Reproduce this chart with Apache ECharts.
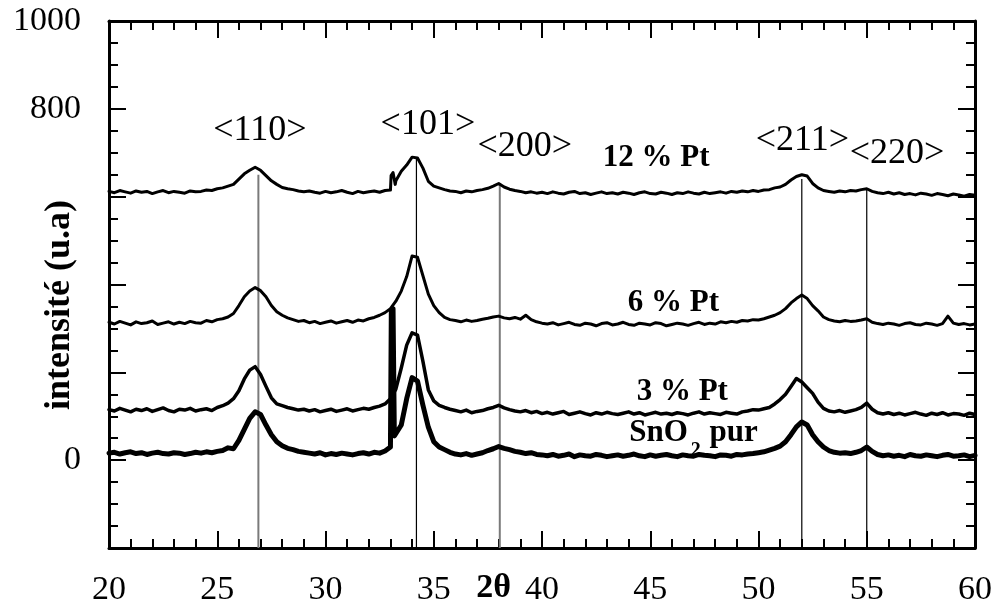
<!DOCTYPE html>
<html><head><meta charset="utf-8">
<script src="https://cdn.jsdelivr.net/npm/echarts@6/dist/echarts.min.js"></script>
<style>html,body{margin:0;padding:0;background:#fff}#c{width:996px;height:606px}</style>
</head><body><div id="c"></div>
<script>
// ---- data ----
const twoThetaStart = 20, twoThetaStep = 0.25;
const sno2Pur = [16,18,14,17,19,15,17,13,16,18,15,14,17,16,13,15,18,16,19,17,20,
  22,28,26,45,70,95,110,104,80,58,42,33,27,24,20,18,
  16,14,17,12,15,13,16,14,12,15,17,14,18,16,21,
  30,58,80,140,188,180,125,75,42,30,24,18,14,12,15,11,14,17,22,26,31,27,24,20,18,15,17,13,12,
  10,13,9,11,14,8,12,10,9,13,11,8,10,12,9,11,14,10,8,12,9,11,13,10,8,12,10,9,13,11,10,8,12,11,9,13,12,14,15,
  17,19,23,27,32,42,58,76,87,80,58,42,30,22,18,16,17,15,18,22,30,20,13,10,12,
  9,11,8,13,10,9,12,10,8,11,13,9,10,12,8,11];
const sno2Spike = [[33.04,340],[33.12,345],[33.18,55]];
const pt3 = [115,112,118,114,110,116,113,117,111,115,119,113,110,116,114,118,112,115,117,113,120,
  124,130,140,158,185,205,213,195,168,142,128,124,120,117,114,116,
  112,115,110,113,116,111,114,117,112,115,118,116,120,123,128,
  140,162,210,262,290,285,225,160,135,125,120,116,113,110,114,108,111,113,117,120,125,119,115,112,110,113,108,111,106,
  109,105,108,111,104,107,110,106,103,108,105,109,106,104,107,110,105,108,103,106,109,105,107,104,108,106,103,107,110,105,108,106,104,109,107,105,110,112,115,
  114,117,120,128,138,150,168,186,178,165,152,132,118,112,110,113,109,112,115,120,130,116,108,105,108,
  104,107,103,106,109,105,102,107,104,108,103,106,105,102,107,104];
const pt6 = [314,310,316,312,308,315,311,313,317,309,312,315,310,314,311,316,313,312,318,315,320,
  322,326,334,352,372,385,393,386,372,352,338,330,324,320,316,318,
  313,316,311,314,317,312,315,318,314,319,317,322,325,330,336,
  345,362,385,418,465,462,420,378,352,336,325,320,318,315,319,316,318,321,323,326,328,324,322,325,321,330,320,315,312,
  310,313,308,311,314,309,307,312,310,306,311,313,308,310,314,309,307,312,310,308,313,311,306,309,312,310,307,311,314,309,312,310,315,313,316,314,318,317,320,
  319,322,326,330,336,345,358,368,376,368,352,340,326,320,317,315,318,316,317,319,322,314,311,309,312,
  310,307,311,313,309,308,312,310,307,311,328,312,309,311,308,310];
const pt12 = [612,609,614,611,608,613,610,612,607,611,614,609,612,610,608,613,611,612,615,614,
  618,620,624,628,640,652,660,667,660,648,636,628,621,618,616,613,611,
  613,610,608,612,609,611,614,610,607,612,609,611,613,610,614,
  615,636,658,672,690,688,665,635,624,620,616,613,612,609,613,611,614,616,619,624,630,622,617,614,612,609,611,608,610,
  607,611,608,606,610,612,607,609,605,608,611,607,609,606,610,608,605,609,611,607,606,610,608,605,609,607,611,608,606,610,607,609,611,608,612,610,613,611,614,
  612,615,616,620,622,628,638,646,650,647,630,620,614,612,610,613,611,614,613,616,618,612,609,607,610,
  606,609,605,607,604,608,606,603,607,605,602,606,604,601,605,603];
const pt12Spike = [[33.03,648],[33.12,655],[33.22,628]];

const peakNames = ['<110>','<101>','<200>','<211>','<220>'];
const peakPos = [26.9, 34.2, 38.05, 52.0, 55.0];
const peakLineTop = [650, 690, 631, 640, 615];
const peakLabelX = [26.97, 34.73, 39.2, 52.03, 56.4];
const peakLabelY = [751, 764, 713, 727, 699];

const sampleNames = ['12 % Pt', '6 % Pt', '3 % Pt', '{a|SnO}{s|2}{a| pur}'];
const sampleLabelX = [45.27, 46.07, 46.48, 47.0];
const sampleLabelY = [688, 357, 155, 61];

const yTickLabels = [0, 800, 1000];
const xTitle = '2θ', xTitleAt = 37.76;

// ---- chart ----
const FONT = '"Liberation Serif", "Times New Roman", serif';
const twoTheta = sno2Pur.map((_, i) => twoThetaStart + i * twoThetaStep);

function curve(name, ys, extra, width) {
  const pts = ys.map((y, i) => [twoTheta[i], y]).concat(extra || []).sort((a, b) => a[0] - b[0]);
  return { type: 'line', name, data: pts, symbol: 'none', showSymbol: false, silent: true,
    lineStyle: { color: '#000', width, join: 'round', cap: 'round' }, z: 3 };
}

const tickCommon = {
  axisLine: { show: true, onZero: false, lineStyle: { color: '#000', width: 3 } },
  axisTick: { show: true, inside: true, length: 17, lineStyle: { color: '#000', width: 2 } },
  minorTick: { show: true, length: 9, lineStyle: { color: '#000', width: 2 } },
  splitLine: { show: false }, minorSplitLine: { show: false }
};
function xAx(pos, labels) {
  return Object.assign({ type: 'value', min: 20, max: 60, interval: 5, position: pos, nameMoveOverlap: false }, JSON.parse(JSON.stringify(tickCommon)), {
    minorTick: Object.assign({}, tickCommon.minorTick, { splitNumber: 5 }),
    axisLabel: labels ? { show: true, fontFamily: FONT, fontSize: 34, color: '#000', margin: 25 } : { show: false }
  });
}
function yAx(pos, labels) {
  return Object.assign({ type: 'value', min: -200, max: 1000, interval: 200, position: pos, nameMoveOverlap: false }, JSON.parse(JSON.stringify(tickCommon)), {
    minorTick: Object.assign({}, tickCommon.minorTick, { splitNumber: 4 }),
    axisLabel: labels ? { show: true, fontFamily: FONT, fontSize: 34, color: '#000', margin: 28,
      formatter: v => yTickLabels.includes(v) ? String(v) : '' } : { show: false }
  });
}

const yMain = yAx('left', true);
Object.assign(yMain, { name: 'intensité (u.a)', nameLocation: 'middle', nameGap: 31,
  nameTextStyle: { fontFamily: FONT, fontWeight: 'bold', fontSize: 36, color: '#000', padding: [0, 41, 0, 0] } });

const labelPlain = { textBorderWidth: 0, textBorderColor: 'transparent', textShadowBlur: 0, opacity: 1 };

const series = [];
peakPos.forEach((x, k) => {
  series.push({ type: 'line', data: [[x, -200], [x, peakLineTop[k]]], symbol: 'none', silent: true, z: 1,
    lineStyle: { color: (k === 0 || k === 2) ? '#7a7a7a' : '#000', width: (k === 0 || k === 2) ? 2 : 1.2 } });
});
series.push(curve('SnO2 pur', sno2Pur, sno2Spike, 5));
series.push(curve('3 % Pt', pt3, null, 3.5));
series.push(curve('6 % Pt', pt6, null, 3));
series.push(curve('12 % Pt', pt12, pt12Spike, 3));
series.push({ type: 'scatter', symbolSize: 0, silent: true, z: 5, itemStyle: { opacity: 1 },
  data: peakNames.map((n, k) => ({ name: n, value: [peakLabelX[k], peakLabelY[k]] })),
  label: Object.assign({ show: true, position: 'inside', formatter: '{b}', fontFamily: FONT, fontSize: 36, color: '#000' }, labelPlain) });
series.push({ type: 'scatter', symbolSize: 0, silent: true, z: 5, itemStyle: { opacity: 1 },
  data: sampleNames.map((n, k) => ({ name: n, value: [sampleLabelX[k], sampleLabelY[k]] })),
  label: Object.assign({ show: true, position: 'inside', formatter: '{b}', fontFamily: FONT, fontWeight: 'bold', fontSize: 31, color: '#000',
    rich: {
      a: { fontFamily: FONT, fontWeight: 'bold', fontSize: 31, color: '#000', lineHeight: 31 },
      s: { fontFamily: FONT, fontWeight: 'bold', fontSize: 20, color: '#000', lineHeight: 20, padding: [34, 1, 0, 3] }
    } }, labelPlain) });

const chart = echarts.init(document.getElementById('c'), null, { renderer: 'canvas' });
chart.setOption({
  animation: false,
  backgroundColor: '#fff',
  grid: { left: 109, right: 21, top: 21, bottom: 58, containLabel: false, outerBoundsMode: 'none' },
  xAxis: [xAx('bottom', true), xAx('top', false)],
  yAxis: [yMain, yAx('right', false)],
  series
});
const tx = chart.convertToPixel({ xAxisIndex: 0 }, xTitleAt);
const ty = chart.convertToPixel({ yAxisIndex: 0 }, -200);
chart.setOption({ graphic: [{ type: 'text', x: tx, y: ty + 40, silent: true,
  style: { text: xTitle, fontFamily: FONT, fontWeight: 'bold', fontSize: 34, fill: '#000', align: 'center', verticalAlign: 'middle' } }] });
</script></body></html>
